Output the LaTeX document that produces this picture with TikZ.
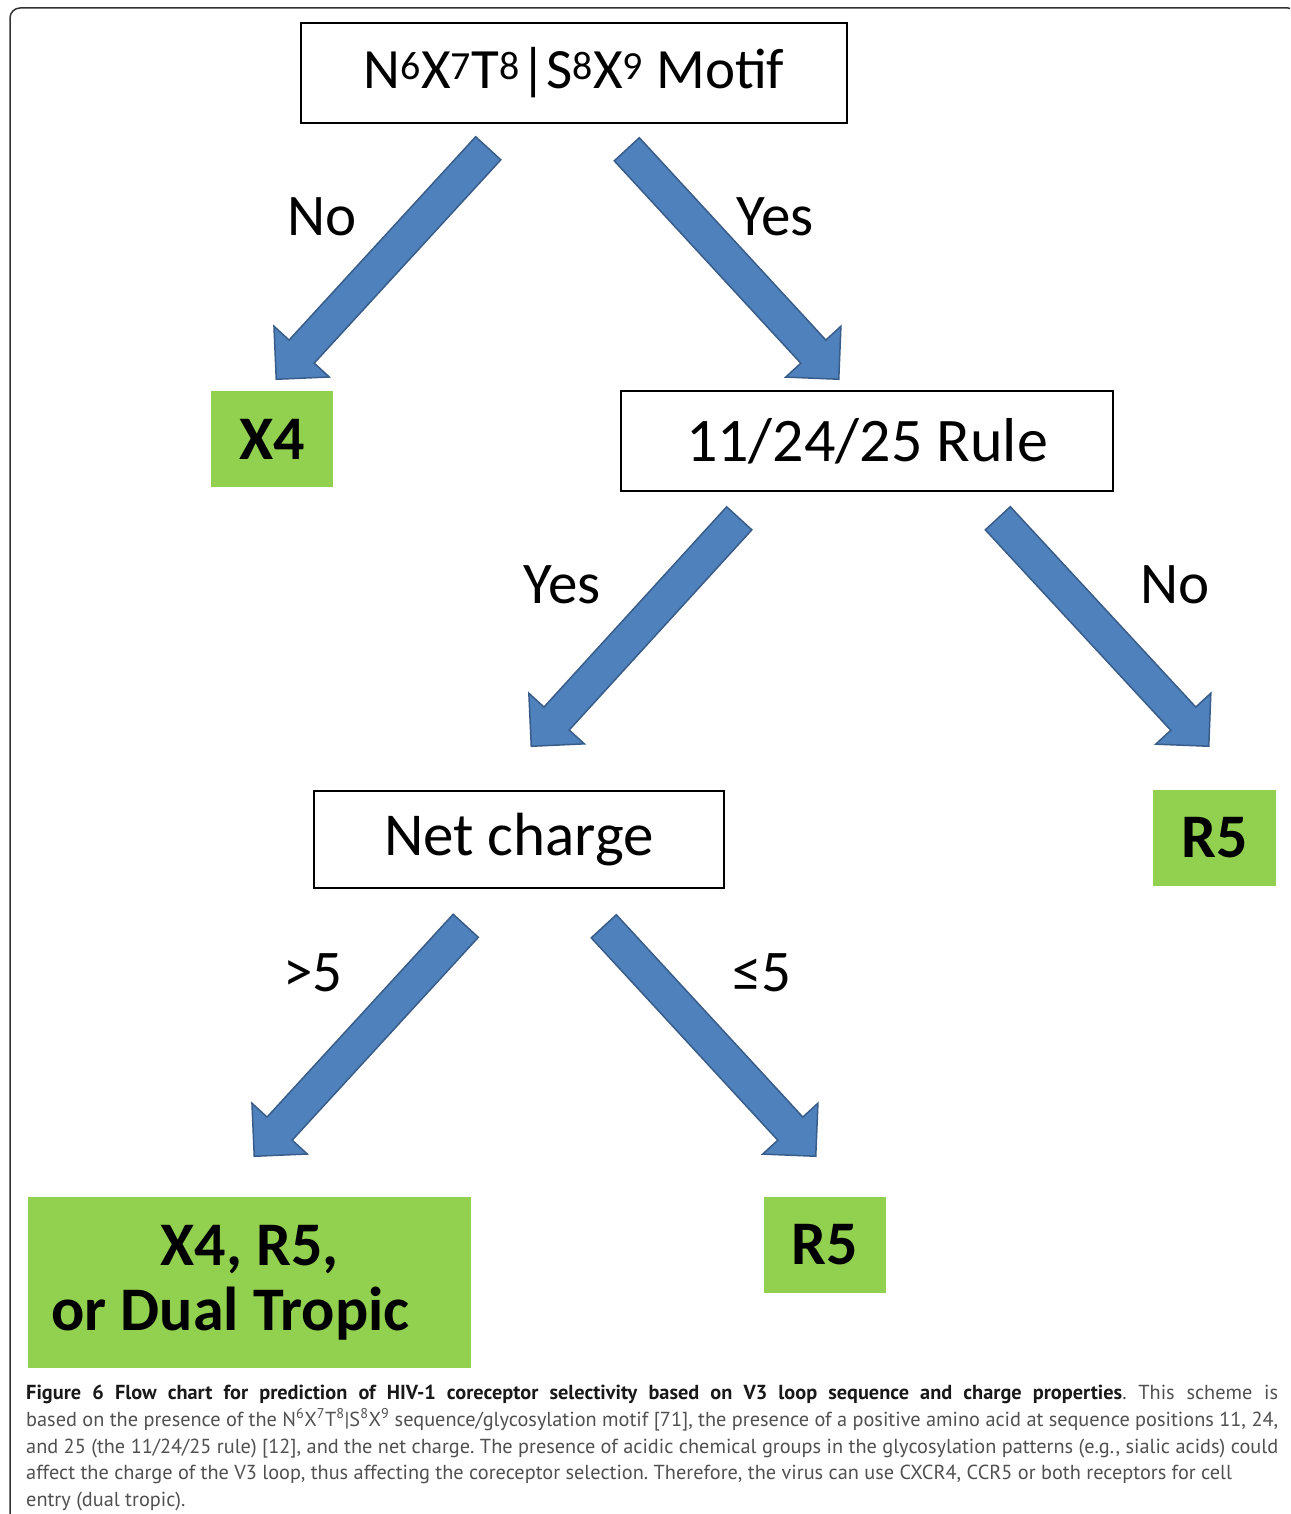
\documentclass[tikz,border=0pt]{standalone}
\usepackage{fontspec}
\setmainfont{Carlito}
\newfontfamily\capfont{PT Sans}
\usetikzlibrary{shapes.arrows,calc}

\definecolor{leafgreen}{RGB}{146,208,80}
\definecolor{arrowblue}{RGB}{79,129,189}
\definecolor{arrowedge}{RGB}{56,93,138}
\definecolor{capgray}{RGB}{80,80,80}

\newcommand{\flowarrow}[2]{%
\path let \p1=($(#2)-(#1)$), \n1={atan2(\y1,\x1)}, \n2={veclen(\x1,\y1)} in
  node[bluearrow, minimum height=\n2, rotate=\n1] at ($(#1)!0.5!(#2)$) {};}

\begin{document}
\frenchspacing
\begin{tikzpicture}[x=1pt,y=-1pt]
\tikzstyle{every node}+=[inner sep=0pt]
\tikzstyle{qbox}=[draw=black, line width=2pt, font=\fontsize{62}{70}\selectfont]
\tikzstyle{outcome}=[fill=leafgreen, font=\bfseries\fontsize{62}{65}\selectfont]
\tikzstyle{answer}=[font=\fontsize{59}{60}\selectfont]
\tikzstyle{bluearrow}=[single arrow, draw=arrowedge, fill=arrowblue, line width=1.5pt, inner xsep=0pt, inner ysep=16.3pt, minimum width=75pt, single arrow head extend=20.5pt]
\useasboundingbox (0,0) rectangle (1290,1514);
\clip (0,0) rectangle (1290,1514);
\fill [white] (0,0) rectangle (1290,1514);
\draw [black!80, line width=1.5pt, rounded corners=10pt] (10,1540) -- (10,8) -- (1298,8) -- (1298,1540);
\node [qbox, minimum width=546pt, minimum height=100pt, font=\fontsize{57}{70}\selectfont] (motif) at (574,73) {N\textsuperscript{6}X\textsuperscript{7}T\textsuperscript{8}|S\textsuperscript{8}X\textsuperscript{9} Motif};
\node [qbox, minimum width=492pt, minimum height=100pt] (rule) at (867,441) {11/24/25 Rule};
\node [qbox, minimum width=410pt, minimum height=97pt, font=\fontsize{61}{70}\selectfont] (charge) at (519,839.5) {Net charge};
\node [outcome, minimum width=122pt, minimum height=96pt] (x4) at (272,439) {X4};
\node [outcome, minimum width=123pt, minimum height=96pt] (r5a) at (1214.5,838) {R5};
\node [outcome, minimum width=443pt, minimum height=171pt, align=center] (dual) at (249.5,1282.5) {X4, R5,\\or Dual Tropic\hspace*{38pt}};
\node [outcome, minimum width=122pt, minimum height=96pt] (r5b) at (825,1245) {R5};
\coordinate (motifno) at (494,142);
\coordinate (x4in) at (282,373);
\coordinate (motifyes) at (621,143);
\coordinate (rulein) at (833,373);
\coordinate (ruleyes) at (745,512);
\coordinate (chargein) at (537,740);
\coordinate (ruleno) at (992,512);
\coordinate (r5ain) at (1203,740);
\coordinate (chargehi) at (471.5,919.5);
\coordinate (dualin) at (260,1150);
\coordinate (chargelo) at (598,920);
\coordinate (r5bin) at (810,1150);
\flowarrow{motifno}{x4in}
\flowarrow{motifyes}{rulein}
\flowarrow{ruleyes}{chargein}
\flowarrow{ruleno}{r5ain}
\flowarrow{chargehi}{dualin}
\flowarrow{chargelo}{r5bin}
\node [answer] (lno1) at (322,217) {No};
\node [answer] (lyes1) at (775,217) {Yes};
\node [answer] (lyes2) at (562,585) {Yes};
\node [answer] (lno2) at (1175,585) {No};
\node [answer] (lhi) at (313,973) {>5};
\node [answer] (llo) at (762,973) {≤5};
\node [anchor=north west, text width=1252pt, align=justify, font=\capfont\fontsize{20.3}{26.75}\selectfont, text=capgray] (caption) at (26,1385) {{\bfseries\color{black!90}Figure 6 Flow chart for prediction of HIV-1 coreceptor selectivity based on V3 loop sequence and charge properties}. This scheme is\linebreak based on the presence of the N\textsuperscript{6}X\textsuperscript{7}T\textsuperscript{8}|S\textsuperscript{8}X\textsuperscript{9} sequence/glycosylation motif [71], the presence of a positive amino acid at sequence positions 11, 24,\linebreak and 25 (the 11/24/25 rule) [12], and the net charge. The presence of acidic chemical groups in the glycosylation patterns (e.g., sialic acids) could\linebreak affect the charge of the V3 loop, thus affecting the coreceptor selection. Therefore, the virus can use CXCR4, CCR5 or both receptors for cell\newline entry (dual tropic).};
\end{tikzpicture}
\end{document}
